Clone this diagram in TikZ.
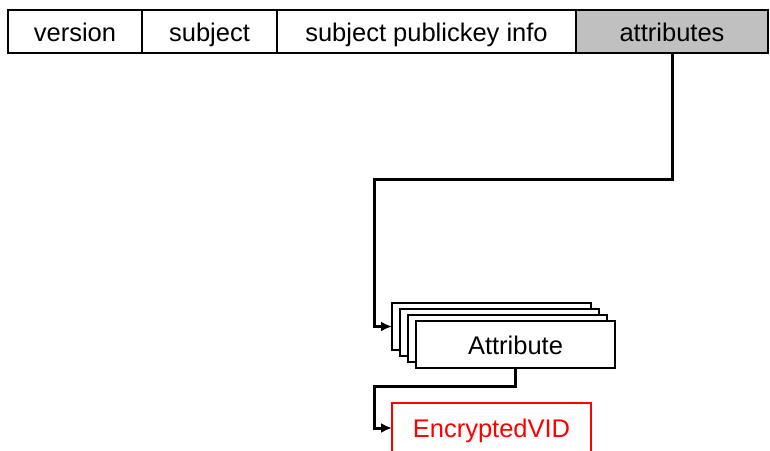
\documentclass[tikz,border=0pt]{standalone}
\usepackage{fontspec}
\setmainfont{Liberation Sans}
\usepackage{xcolor}
\usetikzlibrary{positioning,arrows.meta}
\definecolor{fieldgray}{HTML}{C0C0C0}
\definecolor{vidred}{HTML}{FF0000}
\tikzset{
  Field/.style={
    draw, line width=2pt, outer sep=0pt, inner sep=0pt,
    text height=24pt, text depth=5pt,
    minimum height=43pt, font=\fontsize{25.5}{30}\selectfont
  },
  AttrBox/.style={
    draw, line width=2pt, fill=white, outer sep=0pt, inner sep=0pt,
    text height=24pt, text depth=5pt,
    minimum width=199pt, minimum height=47pt, font=\fontsize{25.5}{30}\selectfont
  },
  Link/.style={line width=3pt, -{Latex[length=11pt,width=10pt]}}
}

\begin{document}
\begin{tikzpicture}[x=1pt, y=-1pt, line cap=rect, line join=miter]
  \useasboundingbox (0,0) rectangle (770,450);

  % certificate request fields
  \node[Field, minimum width=134pt, anchor=north west] (version) at (8,10) {version};
  \node[Field, minimum width=135pt, right=0pt of version] (subject) {subject};
  \node[Field, minimum width=299pt, right=0pt of subject] (spki) {subject publickey info};
  \node[Field, minimum width=192pt, fill=fieldgray, right=0pt of spki] (attributes) {attributes};

  % stack of attributes
  \node[AttrBox, anchor=north west] (attrA) at (392,303) {};
  \node[AttrBox, anchor=north west] (attrB) at (400,309) {};
  \node[AttrBox, anchor=north west] (attrC) at (408,315) {};
  \node[AttrBox, anchor=north west] (attr) at (416,321) {Attribute};

  \node[AttrBox, draw=vidred, text=vidred, anchor=north west, minimum height=50pt] (encvid) at (392,403) {EncryptedVID};

  \coordinate (bendA) at (374,179);
  \coordinate (bendB) at (374,386);

  \draw[Link] (attributes.south) |- (bendA) |- (attrA.west);
  \draw[Link] (attr.south) |- (bendB) |- (encvid.west);
\end{tikzpicture}
\end{document}
